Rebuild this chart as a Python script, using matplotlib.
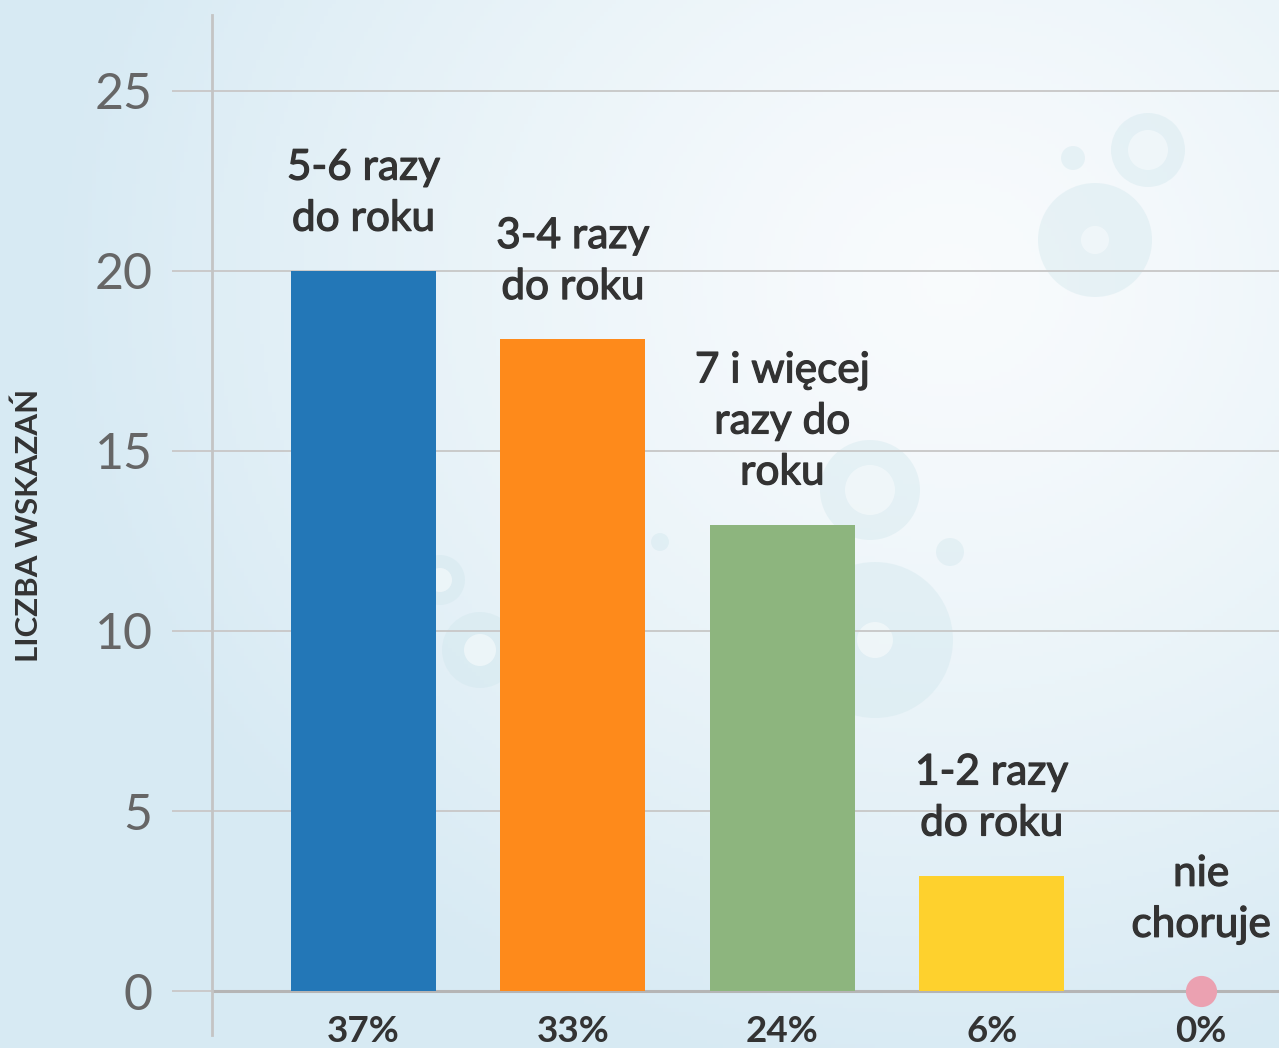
import numpy as np
import matplotlib.pyplot as plt
import matplotlib.patheffects as pe
from matplotlib.patches import Circle

categories = ["5-6 razy\ndo roku", "3-4 razy\ndo roku", "7 i więcej\nrazy do\nroku",
              "1-2 razy\ndo roku", "nie\nchoruje"]
values = [20, 18.1, 12.95, 3.2, 0]
percents = ["37%", "33%", "24%", "6%", "0%"]
colors = ["#2377b7", "#fe8a1b", "#8db57e", "#fed12d", "#eba1b1"]
yticks = [0, 5, 10, 15, 20, 25]

plt.rcParams['font.family'] = ['Lato', 'DejaVu Sans']

W, H = 1279, 1048
fig = plt.figure(figsize=(W / 100, H / 100), dpi=100)

# background gradient
bg = fig.add_axes([0, 0, 1, 1], zorder=-10)
yy, xx = np.mgrid[0:H:4, 0:W:4]
d = np.sqrt(((xx - 950) / 900.0) ** 2 + ((yy - 280) / 800.0) ** 2)
t = np.clip(d, 0, 1) ** 1.3
c_in = np.array([0.975, 0.985, 0.992])
c_out = np.array([0.845, 0.918, 0.955])
img = c_in[None, None, :] * (1 - t[..., None]) + c_out[None, None, :] * t[..., None]
bg.imshow(img, extent=[0, W, H, 0], aspect='auto')
bg.set_xlim(0, W)
bg.set_ylim(H, 0)
bg.axis('off')

# faint decorative bubbles
bub = "#cfe6ec"
for (cx, cy, r, ri) in [(1148, 150, 37, 20), (1095, 240, 57, 14), (1073, 158, 12, 0),
                        (870, 490, 50, 25), (875, 640, 78, 18), (480, 650, 38, 16),
                        (950, 552, 14, 0), (660, 542, 9, 0), (440, 580, 25, 12)]:
    bg.add_patch(Circle((cx, cy), r, color=bub, alpha=0.38, lw=0))
    if ri:
        bg.add_patch(Circle((cx, cy), ri, color="#f4f9fb", alpha=0.7, lw=0))

ax = fig.add_axes([212 / W, 0, (W - 212) / W, (H - 15) / H])
ax.patch.set_alpha(0)

x = np.arange(len(values))
ax.bar(x[:4], values[:4], width=0.692, color=colors[:4], zorder=3)
ax.scatter([x[4]], [values[4]], s=460, color=colors[4], zorder=4, clip_on=False)

ax.set_xlim(-0.7235, 4.372)
ax.set_ylim(-1.583, 27.11)
ax.set_yticks(yticks)
ax.set_xticks([])
ax.grid(axis='y', color='#cacaca', linewidth=1.4, zorder=1)
ax.axhline(0, color='#b5b5b5', linewidth=2.2, zorder=2)
ax.tick_params(axis='y', length=28.8, width=1.4, color='#cacaca', pad=14,
               labelsize=36, labelcolor='#666666')

for s in ['top', 'right', 'bottom']:
    ax.spines[s].set_visible(False)
ax.spines['left'].set_color('#c4c4c4')
ax.spines['left'].set_linewidth(2)
ax.spines['left'].set_bounds(-1.22, 27.11)

thick = [pe.withStroke(linewidth=0.9, foreground='#333333')]
for i, (lab, v) in enumerate(zip(categories, values)):
    off = 24 if v > 0 else 34
    ax.annotate(lab, (x[i], v), xytext=(0, off), textcoords='offset points',
                ha='center', va='bottom', fontsize=30.5, color='#333333',
                linespacing=1.42, annotation_clip=False, path_effects=thick)
    ax.text(x[i], -0.66, percents[i], ha='center', va='top', fontsize=26.5,
            fontweight='bold', color='#333333', clip_on=False)

fig.text(29 / W, 1 - 525 / H, "LICZBA WSKAZAŃ", rotation=90, ha='center', va='center',
         fontsize=22.5, fontweight='bold', color='#333333')

fig.savefig("out.png", dpi=100)
